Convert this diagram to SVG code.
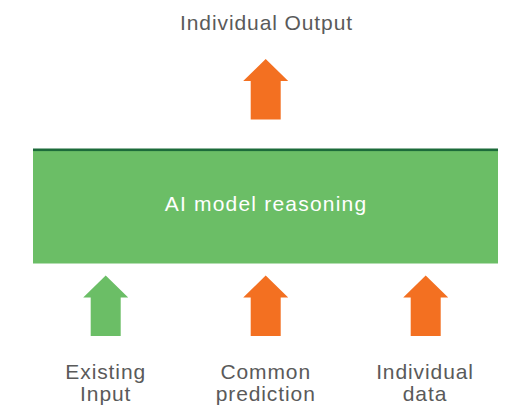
<svg xmlns="http://www.w3.org/2000/svg" width="513" height="408" viewBox="0 0 513 408">
  <style>
    .lbl { font-family: "Liberation Sans", Arial, sans-serif; font-size: 21px; fill: #5a5a5a; text-anchor: middle; letter-spacing: 0.9px; }
    .inner { font-family: "Liberation Sans", Arial, sans-serif; font-size: 21px; fill: #ffffff; text-anchor: middle; letter-spacing: 1.2px; }
    .orange { fill: #F37021; }
    .green { fill: #6BBE66; }
  </style>
  <defs>
    <path id="arrow" d="M0,0 L22.5,22 L15,22 L15,60.5 L-15,60.5 L-15,22 L-22.5,22 Z"/>
  </defs>
  <rect width="513" height="408" fill="#ffffff"/>

  <g id="model">
    <rect x="33" y="149" width="465" height="114.5" class="green"/>
    <rect x="33" y="148.5" width="465" height="2.6" fill="#1C6B3A"/>
    <text class="inner" x="266" y="211">AI model reasoning</text>
  </g>

  <g id="output">
    <text class="lbl" x="266.5" y="30">Individual Output</text>
  </g>

  <g id="existing-input">
    <text class="lbl" x="105.7" y="379">Existing</text>
    <text class="lbl" x="105.7" y="401">Input</text>
  </g>

  <g id="common-prediction">
    <text class="lbl" x="265.7" y="379">Common</text>
    <text class="lbl" x="265.7" y="401">prediction</text>
  </g>

  <g id="individual-data">
    <text class="lbl" x="425" y="379">Individual</text>
    <text class="lbl" x="425" y="401">data</text>
  </g>

  <g id="connectors">
    <use href="#arrow" class="orange" x="265.7" y="59"/>
    <use href="#arrow" class="green" x="105.7" y="275.5"/>
    <use href="#arrow" class="orange" x="265.7" y="275.5"/>
    <use href="#arrow" class="orange" x="425.7" y="275.5"/>
  </g>
</svg>
